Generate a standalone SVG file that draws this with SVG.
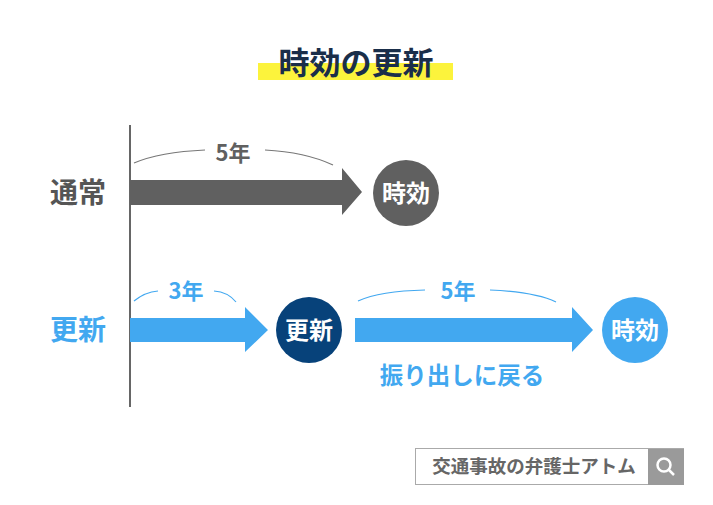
<svg xmlns="http://www.w3.org/2000/svg" width="713" height="505" viewBox="0 0 713 505">
<style>
text{font-family:"Noto Sans CJK JP","Noto Sans",sans-serif;font-weight:bold;text-anchor:middle}
.arc{fill:none;stroke:#777;stroke-width:1.2}
.barc{fill:none;stroke:#42a8f0;stroke-width:1.2}
</style>
<rect width="713" height="505" fill="#fff"/>
<g id="title"><rect x="258" y="63" width="195" height="17" fill="#fcf33c"/>
<text x="356" y="74" font-size="31" fill="#1a2e4a">時効の更新</text></g>
<g id="connectors">
<line x1="130" y1="125" x2="130" y2="407" stroke="#666" stroke-width="2"/>
<polygon points="130,180 342,180 342,168 362,192 342,215 342,205 130,205" fill="#606060"/>
<polygon points="130,318 245,318 245,307 268,330 245,352 245,342 130,342" fill="#42a8f0"/>
<polygon points="355,318 572,318 572,307 593,330 572,352 572,342 355,342" fill="#42a8f0"/>
<path class="arc" d="M134,163 Q160,152 205,150"/><path class="arc" d="M265,150 Q305,152 333,165"/>
<path class="barc" d="M134,301 Q145,292 158,291"/><path class="barc" d="M214,291 Q228,292 236,302"/>
<path class="barc" d="M358,301 Q380,291 425,290"/><path class="barc" d="M490,290 Q535,292 556,302"/>
</g>
<text x="233" y="161" font-size="22" fill="#606060" font-weight="normal">5年</text>
<text x="186" y="299" font-size="22" fill="#42a8f0">3年</text>
<text x="458" y="299" font-size="22" fill="#42a8f0">5年</text>
<text x="462" y="384" font-size="23.5" fill="#42a8f0">振り出しに戻る</text>
<g id="label-normal"><text x="78" y="203" font-size="28" fill="#555">通常</text></g>
<g id="label-renew"><text x="78" y="340" font-size="28" fill="#42a8f0">更新</text></g>
<g id="node1"><circle cx="406" cy="193" r="33" fill="#606060"/><text x="406" y="202" font-size="24" fill="#fff">時効</text></g>
<g id="node2"><circle cx="309" cy="330" r="33" fill="#07427a"/><text x="309" y="339" font-size="24" fill="#fff">更新</text></g>
<g id="node3"><circle cx="635" cy="330" r="33" fill="#42a8f0"/><text x="635" y="339" font-size="24" fill="#fff">時効</text></g>
<g id="search"><rect x="415.5" y="448.5" width="268" height="36" fill="#fff" stroke="#aaa"/>
<rect x="648" y="449" width="36" height="36" fill="#9a9a9a"/>
<circle cx="664" cy="465" r="6.5" fill="none" stroke="#fff" stroke-width="2.5"/>
<line x1="669" y1="470" x2="674" y2="475" stroke="#fff" stroke-width="2.5"/>
<text x="534" y="473" font-size="18.5" fill="#666" font-weight="normal">交通事故の弁護士アトム</text></g>
</svg>
